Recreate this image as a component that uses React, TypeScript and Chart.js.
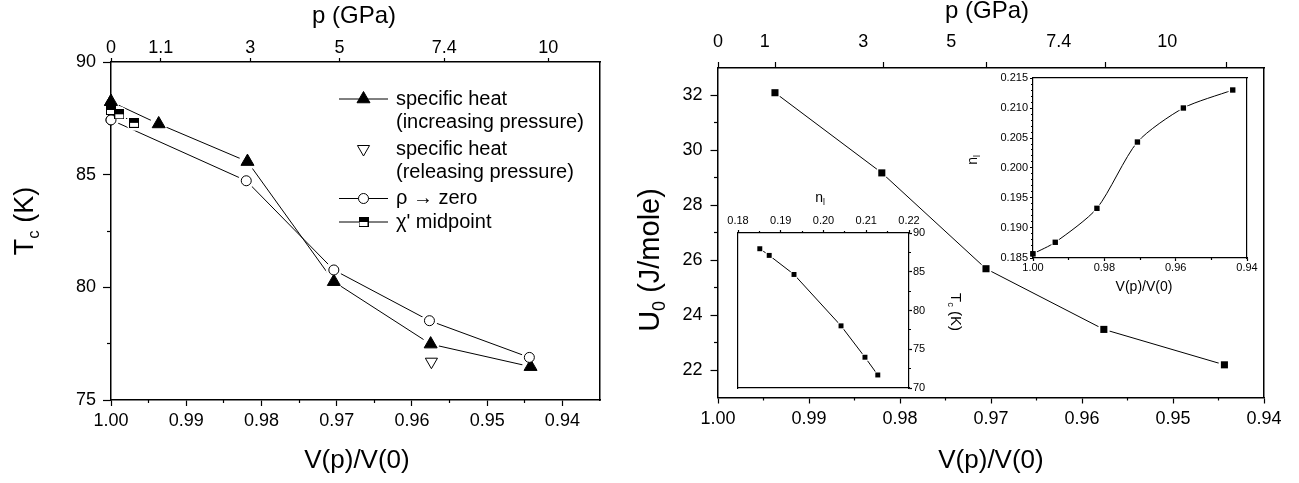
import React, { useEffect, useRef } from 'react';
import { Chart, registerables } from 'chart.js';

Chart.register(...registerables);

const PAGE_W = 1299;
const PAGE_H = 483;
const FAMILY = "'Liberation Sans', Arial, Helvetica, sans-serif";
Chart.defaults.font.family = FAMILY;

// ---------------- Left panel: Tc vs V(p)/V(0) ----------------
const heatIncV = [1.0, 0.99366, 0.98186, 0.97038, 0.95751, 0.94423];
const heatIncTc = [88.24, 87.25, 85.58, 80.25, 77.48, 76.48];
const heatRelV = [0.95741];
const heatRelTc = [76.7];
const rhoV = [1.0, 0.98202, 0.97038, 0.95767, 0.94439];
const rhoTc = [87.43, 84.73, 80.77, 78.52, 76.89];
const chiV = [1.0, 0.9989, 0.99694];
const chiTc = [87.87, 87.68, 87.3];

const leftVTicks = [1.0, 0.99, 0.98, 0.97, 0.96, 0.95, 0.94];
const leftVMinor = [0.995, 0.985, 0.975, 0.965, 0.955, 0.945];
const leftTcTicks = [75, 80, 85, 90];
const leftTcMinor = [77.5, 82.5, 87.5];
const leftPressureLabels = ['0', '1.1', '3', '5', '7.4', '10'];
const leftPressureV = [1.0, 0.99339, 0.98149, 0.96963, 0.95571, 0.94189];

// ---------------- Right panel: U0 vs V(p)/V(0) ----------------
const u0V = [0.99374, 0.982, 0.97055, 0.9576, 0.94435];
const u0 = [32.1, 29.18, 25.69, 23.48, 22.19];
const rightVTicks = [1.0, 0.99, 0.98, 0.97, 0.96, 0.95, 0.94];
const rightVMinor = [0.995, 0.985, 0.975, 0.965, 0.955, 0.945];
const rightU0Ticks = [22, 24, 26, 28, 30, 32];
const rightU0Minor = [23, 25, 27, 29, 31];
const rightPressureLabels = ['0', '1', '3', '5', '7.4', '10'];
const rightPressureTickV = [1.0, 0.99369, 0.98185, 0.97049, 0.95738, 0.94415];
const rightPressureLabelV = [1.0, 0.99487, 0.98403, 0.97438, 0.96256, 0.95064];

// ---------------- Inset A: Tc vs n_l ----------------
const insetN = [0.1851, 0.1873, 0.1931, 0.2041, 0.2097, 0.2127];
const insetTc = [87.97, 87.11, 84.65, 78.02, 73.97, 71.68];
const insetNTicks = [0.18, 0.19, 0.2, 0.21, 0.22];
const insetNMinor = [0.185, 0.195, 0.205, 0.215];
const insetTcTicks = [70, 75, 80, 85, 90];
const insetTcMinor = [72.5, 77.5, 82.5, 87.5];

// ---------------- Inset B: n_l vs V(p)/V(0) ----------------
const nlV = [1.0, 0.99376, 0.98208, 0.97072, 0.95784, 0.944];
const nl = [0.1857, 0.18762, 0.19328, 0.20433, 0.21, 0.213];
const insetVTicks = [1.0, 0.98, 0.96, 0.94];
const insetVMinor = [0.99, 0.97, 0.95];
const insetNlTicks = [0.185, 0.19, 0.195, 0.2, 0.205, 0.21, 0.215];
const insetNlMinor = [
  0.186, 0.187, 0.188, 0.189, 0.191, 0.192, 0.193, 0.194, 0.196, 0.197, 0.198, 0.199,
  0.201, 0.202, 0.203, 0.204, 0.206, 0.207, 0.208, 0.209, 0.211, 0.212, 0.213, 0.214,
];

type Pt = { x: number; y: number };
const pts = (xs: number[], ys: number[]): Pt[] => xs.map((x, i) => ({ x, y: ys[i] }));

type AxisOpt = {
  position: 'left' | 'right' | 'top' | 'bottom';
  min: number;
  max: number;
  reverse?: boolean;
  ticks?: number[];
  label?: (v: number, i: number) => string;
  tickLength?: number;
  padding?: number;
  size?: number;
  border?: boolean;
  borderWidth?: number;
  box?: number;
};

function axis(o: AxisOpt): any {
  const tl = o.tickLength ?? 0;
  const hasTicks = !!o.ticks && tl > 0;
  const box = o.box ?? 0;
  return {
    type: 'linear',
    axis: o.position === 'left' || o.position === 'right' ? 'y' : 'x',
    position: o.position,
    min: o.min,
    max: o.max,
    reverse: !!o.reverse,
    afterFit: (s: any) => {
      if (s.isHorizontal()) s.height = box;
      else s.width = box;
    },
    afterBuildTicks: o.ticks
      ? (s: any) => {
          s.ticks = o.ticks!.map((v) => ({ value: v }));
        }
      : undefined,
    grid: {
      display: true,
      drawOnChartArea: false,
      drawTicks: hasTicks,
      tickLength: tl,
      tickColor: '#000',
      tickWidth: 1.2,
      color: '#000',
    },
    border: { display: !!o.border, color: '#000', width: o.borderWidth ?? 1.5 },
    ticks: {
      display: !!o.label,
      callback: (v: any, i: number) => (o.label ? o.label(Number(v), i) : ''),
      color: '#000',
      font: { family: FAMILY, size: o.size ?? 12 },
      padding: o.padding ?? 0,
      autoSkip: false,
      maxRotation: 0,
      minRotation: 0,
    },
  };
}

type Boxes = { left: number; top: number; right: number; bottom: number };

function common(l: number, t: number, r: number, b: number, bx: Boxes): any {
  return {
    responsive: false,
    maintainAspectRatio: false,
    animation: false,
    devicePixelRatio: 1,
    events: [],
    layout: {
      padding: {
        left: l - bx.left,
        top: t - bx.top,
        right: PAGE_W - r - bx.right,
        bottom: PAGE_H - b - bx.bottom,
      },
    },
    plugins: { legend: { display: false }, tooltip: { enabled: false }, title: { display: false } },
  };
}

type Part = { t: string; sub?: boolean };
type TextItem = { parts: Part[]; x: number; y: number; size: number; rot?: number };

function drawRich(ctx: CanvasRenderingContext2D, it: TextItem) {
  ctx.save();
  ctx.translate(it.x, it.y);
  ctx.rotate(((it.rot ?? 0) * Math.PI) / 180);
  ctx.fillStyle = '#000';
  ctx.textBaseline = 'middle';
  ctx.textAlign = 'left';
  const subSize = it.size * 0.62;
  const widths = it.parts.map((p) => {
    ctx.font = `${p.sub ? subSize : it.size}px ${FAMILY}`;
    return ctx.measureText(p.t).width;
  });
  const total = widths.reduce((a, b) => a + b, 0);
  let cx = -total / 2;
  it.parts.forEach((p, i) => {
    ctx.font = `${p.sub ? subSize : it.size}px ${FAMILY}`;
    ctx.fillText(p.t, cx, p.sub ? it.size * 0.3 : 0);
    cx += widths[i];
  });
  ctx.restore();
}

function textPlugin(id: string, items: TextItem[]) {
  return {
    id,
    afterDraw(chart: any) {
      items.forEach((it) => drawRich(chart.ctx, it));
    },
  };
}

// Origin-style gaps: a white halo around every marker interrupts the lines,
// then the markers are drawn again on top.
function haloPlugin(pad: number) {
  return {
    id: 'markerHalo',
    afterDatasetsDraw(chart: any) {
      const ctx: CanvasRenderingContext2D = chart.ctx;
      const a = chart.chartArea;
      ctx.save();
      ctx.beginPath();
      ctx.rect(a.left + 1.2, a.top + 1.2, a.right - a.left - 2.4, a.bottom - a.top - 2.4);
      ctx.clip();
      ctx.fillStyle = '#fff';
      chart.data.datasets.forEach((_ds: any, i: number) => {
        const meta = chart.getDatasetMeta(i);
        meta.data.forEach((pt: any) => {
          const st = pt.options.pointStyle;
          const f = st === 'triangle' ? 0.75 : st === 'rect' ? 0.72 : 1;
          const r = pt.options.radius * f + pad;
          ctx.beginPath();
          ctx.arc(pt.x, pt.y, r, 0, Math.PI * 2);
          ctx.fill();
        });
      });
      ctx.restore();
      chart.data.datasets.forEach((_ds: any, i: number) => {
        const meta = chart.getDatasetMeta(i);
        meta.data.forEach((pt: any) => pt.draw(ctx, a));
      });
    },
  };
}

function makeHalfSquare(size: number): HTMLCanvasElement {
  const c = document.createElement('canvas');
  c.width = size;
  c.height = size;
  const ctx = c.getContext('2d')!;
  ctx.fillStyle = '#fff';
  ctx.fillRect(0, 0, size, size);
  ctx.fillStyle = '#000';
  ctx.fillRect(0, 0, size, size / 2);
  ctx.strokeStyle = '#000';
  ctx.lineWidth = 1;
  ctx.strokeRect(0.5, 0.5, size - 1, size - 1);
  return c;
}

function triPath(ctx: CanvasRenderingContext2D, x: number, y: number, r: number, rotDeg: number) {
  let rad = (rotDeg * Math.PI) / 180;
  ctx.beginPath();
  ctx.moveTo(x + Math.sin(rad) * r, y - Math.cos(rad) * r);
  rad += (2 * Math.PI) / 3;
  ctx.lineTo(x + Math.sin(rad) * r, y - Math.cos(rad) * r);
  rad += (2 * Math.PI) / 3;
  ctx.lineTo(x + Math.sin(rad) * r, y - Math.cos(rad) * r);
  ctx.closePath();
}

function legendPlugin(halfSquare: HTMLCanvasElement) {
  const rows = [
    { kind: 'triUp', line: true, lines: ['specific heat', '(increasing pressure)'], y: 99 },
    { kind: 'triDown', line: false, lines: ['specific heat', '(releasing pressure)'], y: 149 },
    { kind: 'circle', line: true, lines: ['\u03c1 \u2192 zero'], y: 198.5 },
    { kind: 'half', line: true, lines: ["\u03c7' midpoint"], y: 222 },
  ];
  const x0 = 339;
  const x1 = 388;
  const xm = 363.5;
  const tx = 396;
  return {
    id: 'leftLegend',
    afterDraw(chart: any) {
      const ctx: CanvasRenderingContext2D = chart.ctx;
      ctx.save();
      rows.forEach((r) => {
        if (r.line) {
          ctx.strokeStyle = '#000';
          ctx.lineWidth = 1;
          ctx.beginPath();
          ctx.moveTo(x0, r.y);
          ctx.lineTo(x1, r.y);
          ctx.stroke();
        }
        ctx.lineWidth = 1;
        ctx.strokeStyle = '#000';
        if (r.kind === 'triUp') {
          ctx.fillStyle = '#000';
          triPath(ctx, xm, r.y, 7.5, 0);
          ctx.fill();
          ctx.stroke();
        } else if (r.kind === 'triDown') {
          ctx.fillStyle = '#fff';
          triPath(ctx, xm, r.y, 7, 180);
          ctx.fill();
          ctx.stroke();
        } else if (r.kind === 'circle') {
          ctx.fillStyle = '#fff';
          ctx.beginPath();
          ctx.arc(xm, r.y, 5, 0, Math.PI * 2);
          ctx.fill();
          ctx.stroke();
        } else {
          ctx.drawImage(halfSquare, xm - halfSquare.width / 2, r.y - halfSquare.height / 2);
        }
        ctx.fillStyle = '#000';
        ctx.font = `20px ${FAMILY}`;
        ctx.textBaseline = 'middle';
        ctx.textAlign = 'left';
        r.lines.forEach((s, i) => ctx.fillText(s, tx, r.y + i * 23.5));
      });
      ctx.restore();
    },
  };
}

const fmt2 = (v: number) => v.toFixed(2);
const fmt3 = (v: number) => v.toFixed(3);
const fmtInt = (v: number) => String(Math.round(v));

function leftMainConfig(halfSquare: HTMLCanvasElement): any {
  const vMin = 0.935;
  const vMax = 1.0;
  return {
    type: 'scatter',
    data: {
      datasets: [
        {
          label: 'specific heat (increasing pressure)',
          data: pts(heatIncV, heatIncTc),
          showLine: true,
          borderColor: '#000',
          borderWidth: 1,
          pointStyle: 'triangle',
          pointRadius: 7.5,
          pointBackgroundColor: '#000',
          pointBorderColor: '#000',
          pointBorderWidth: 1,
          clip: false,
        },
        {
          label: 'specific heat (releasing pressure)',
          data: pts(heatRelV, heatRelTc),
          showLine: false,
          pointStyle: 'triangle',
          pointRotation: 180,
          pointRadius: 7,
          pointBackgroundColor: '#fff',
          pointBorderColor: '#000',
          pointBorderWidth: 1,
          clip: false,
        },
        {
          label: '\u03c1 \u2192 zero',
          data: pts(rhoV, rhoTc),
          showLine: true,
          borderColor: '#000',
          borderWidth: 1,
          pointStyle: 'circle',
          pointRadius: 5,
          pointBackgroundColor: '#fff',
          pointBorderColor: '#000',
          pointBorderWidth: 1,
          clip: false,
        },
        {
          label: "\u03c7' midpoint",
          data: pts(chiV, chiTc),
          showLine: true,
          borderColor: '#000',
          borderWidth: 1,
          pointStyle: halfSquare,
          pointRadius: 5,
          clip: false,
        },
      ],
    },
    options: {
      ...common(111, 62, 600, 400, { left: 60, top: 30, right: 0, bottom: 40 }),
      scales: {
        xMinor: axis({ position: 'bottom', min: vMin, max: vMax, reverse: true, ticks: leftVMinor, tickLength: 3 }),
        x: axis({ position: 'bottom', min: vMin, max: vMax, reverse: true, ticks: leftVTicks, label: fmt2, tickLength: 6, padding: 4, size: 18, border: true, box: 40 }),
        xTop: axis({ position: 'top', min: vMin, max: vMax, reverse: true, ticks: leftPressureV, label: (_v, i) => leftPressureLabels[i], tickLength: 4, padding: -1, size: 18, border: true, box: 30 }),
        yMinor: axis({ position: 'left', min: 75, max: 90, ticks: leftTcMinor, tickLength: 4 }),
        y: axis({ position: 'left', min: 75, max: 90, ticks: leftTcTicks, label: fmtInt, tickLength: 8, padding: 7, size: 18, border: true, box: 60 }),
        yRight: axis({ position: 'right', min: 75, max: 90, border: true }),
      },
    },
    plugins: [
      haloPlugin(3),
      legendPlugin(halfSquare),
      textPlugin('leftTitles', [
        { parts: [{ t: 'p (GPa)' }], x: 354, y: 16, size: 24 },
        { parts: [{ t: 'V(p)/V(0)' }], x: 357, y: 461, size: 26 },
        { parts: [{ t: 'T' }, { t: 'c', sub: true }, { t: ' (K)' }], x: 26, y: 221, size: 27, rot: -90 },
      ]),
    ],
  };
}

function rightMainConfig(): any {
  const vMin = 0.94;
  const vMax = 1.0;
  return {
    type: 'scatter',
    data: {
      datasets: [
        {
          label: 'U0',
          data: pts(u0V, u0),
          showLine: true,
          borderColor: '#000',
          borderWidth: 1,
          pointStyle: 'rect',
          pointRadius: 5,
          pointBackgroundColor: '#000',
          pointBorderColor: '#000',
          pointBorderWidth: 0,
          clip: false,
        },
      ],
    },
    options: {
      ...common(718, 68, 1264, 397.5, { left: 60, top: 40, right: 0, bottom: 40 }),
      scales: {
        xMinor: axis({ position: 'bottom', min: vMin, max: vMax, reverse: true, ticks: rightVMinor, tickLength: 3 }),
        x: axis({ position: 'bottom', min: vMin, max: vMax, reverse: true, ticks: rightVTicks, label: fmt2, tickLength: 6, padding: 4.5, size: 18, border: true, box: 40 }),
        xTopTicks: axis({ position: 'top', min: vMin, max: vMax, reverse: true, ticks: rightPressureTickV, tickLength: 6, border: true }),
        xTopLabels: axis({ position: 'top', min: vMin, max: vMax, reverse: true, ticks: rightPressureLabelV, label: (_v, i) => rightPressureLabels[i], padding: 15, size: 18, box: 40 }),
        yMinor: axis({ position: 'left', min: 21, max: 33, ticks: rightU0Minor, tickLength: 4 }),
        y: axis({ position: 'left', min: 21, max: 33, ticks: rightU0Ticks, label: fmtInt, tickLength: 7.5, padding: 8, size: 18, border: true, box: 60 }),
        yRight: axis({ position: 'right', min: 21, max: 33, border: true }),
      },
    },
    plugins: [
      haloPlugin(2.5),
      textPlugin('rightTitles', [
        { parts: [{ t: 'p (GPa)' }], x: 987, y: 11, size: 24 },
        { parts: [{ t: 'V(p)/V(0)' }], x: 991, y: 461, size: 26 },
        { parts: [{ t: 'U' }, { t: '0', sub: true }, { t: ' (J/mole)' }], x: 651, y: 260, size: 29, rot: -90 },
      ]),
    ],
  };
}

function insetAConfig(): any {
  return {
    type: 'scatter',
    data: {
      datasets: [
        {
          label: 'Tc vs nl',
          data: pts(insetN, insetTc),
          xAxisID: 'x',
          yAxisID: 'y',
          showLine: true,
          borderColor: '#000',
          borderWidth: 1,
          pointStyle: 'rect',
          pointRadius: 3.5,
          pointBackgroundColor: '#000',
          pointBorderColor: '#000',
          pointBorderWidth: 0,
          clip: false,
        },
      ],
    },
    options: {
      ...common(738, 233, 909, 388, { left: 0, top: 20, right: 25, bottom: 0 }),
      scales: {
        xMinor: axis({ position: 'top', min: 0.18, max: 0.22, ticks: insetNMinor, tickLength: 2 }),
        x: axis({ position: 'top', min: 0.18, max: 0.22, ticks: insetNTicks, label: fmt2, tickLength: 3, padding: 2, size: 11, border: true, borderWidth: 1.2, box: 20 }),
        xBottom: axis({ position: 'bottom', min: 0.18, max: 0.22, border: true, borderWidth: 1.2 }),
        yMinor: axis({ position: 'right', min: 70, max: 90, ticks: insetTcMinor, tickLength: 2 }),
        y: axis({ position: 'right', min: 70, max: 90, ticks: insetTcTicks, label: fmtInt, tickLength: 3, padding: 1, size: 11, border: true, borderWidth: 1.2, box: 25 }),
        yLeft: axis({ position: 'left', min: 70, max: 90, border: true, borderWidth: 1.2 }),
      },
    },
    plugins: [
      haloPlugin(1.8),
      textPlugin('insetATitles', [
        { parts: [{ t: 'n' }, { t: 'l', sub: true }], x: 820, y: 198, size: 14 },
        { parts: [{ t: 'T' }, { t: 'c', sub: true }, { t: ' (K)' }], x: 955, y: 312, size: 15, rot: 90 },
      ]),
    ],
  };
}

function insetBConfig(): any {
  return {
    type: 'scatter',
    data: {
      datasets: [
        {
          label: 'nl vs V',
          data: pts(nlV, nl),
          showLine: true,
          tension: 0.25,
          borderColor: '#000',
          borderWidth: 1,
          pointStyle: 'rect',
          pointRadius: 3.8,
          pointBackgroundColor: '#000',
          pointBorderColor: '#000',
          pointBorderWidth: 0,
          clip: false,
        },
      ],
    },
    options: {
      ...common(1033, 78, 1247, 258, { left: 35, top: 0, right: 0, bottom: 16 }),
      scales: {
        xMinor: axis({ position: 'bottom', min: 0.94, max: 1.0, reverse: true, ticks: insetVMinor, tickLength: 2 }),
        x: axis({ position: 'bottom', min: 0.94, max: 1.0, reverse: true, ticks: insetVTicks, label: fmt2, tickLength: 3, padding: 0, size: 11, border: true, borderWidth: 1.2, box: 16 }),
        xTop: axis({ position: 'top', min: 0.94, max: 1.0, reverse: true, border: true, borderWidth: 1.2 }),
        yMinor: axis({ position: 'left', min: 0.185, max: 0.215, ticks: insetNlMinor, tickLength: 2 }),
        y: axis({ position: 'left', min: 0.185, max: 0.215, ticks: insetNlTicks, label: fmt3, tickLength: 3, padding: 2, size: 11, border: true, borderWidth: 1.2, box: 35 }),
        yRight: axis({ position: 'right', min: 0.185, max: 0.215, border: true, borderWidth: 1.2 }),
      },
    },
    plugins: [
      haloPlugin(1.8),
      textPlugin('insetBTitles', [
        { parts: [{ t: 'n' }, { t: 'l', sub: true }], x: 973, y: 160, size: 14, rot: -90 },
        { parts: [{ t: 'V(p)/V(0)' }], x: 1144, y: 287, size: 14 },
      ]),
    ],
  };
}

export default function App() {
  const r1 = useRef<HTMLCanvasElement>(null);
  const r2 = useRef<HTMLCanvasElement>(null);
  const r3 = useRef<HTMLCanvasElement>(null);
  const r4 = useRef<HTMLCanvasElement>(null);

  useEffect(() => {
    const half = makeHalfSquare(10);
    const charts = [
      new Chart(r1.current!, leftMainConfig(half)),
      new Chart(r2.current!, rightMainConfig()),
      new Chart(r3.current!, insetAConfig()),
      new Chart(r4.current!, insetBConfig()),
    ];
    return () => charts.forEach((c) => c.destroy());
  }, []);

  const cs: React.CSSProperties = {
    position: 'absolute',
    left: 0,
    top: 0,
    width: PAGE_W,
    height: PAGE_H,
  };

  return (
    <div style={{ position: 'fixed', left: 0, top: 0, width: PAGE_W, height: PAGE_H, background: '#fff' }}>
      <canvas ref={r1} width={PAGE_W} height={PAGE_H} style={cs} />
      <canvas ref={r2} width={PAGE_W} height={PAGE_H} style={cs} />
      <canvas ref={r3} width={PAGE_W} height={PAGE_H} style={cs} />
      <canvas ref={r4} width={PAGE_W} height={PAGE_H} style={cs} />
    </div>
  );
}
